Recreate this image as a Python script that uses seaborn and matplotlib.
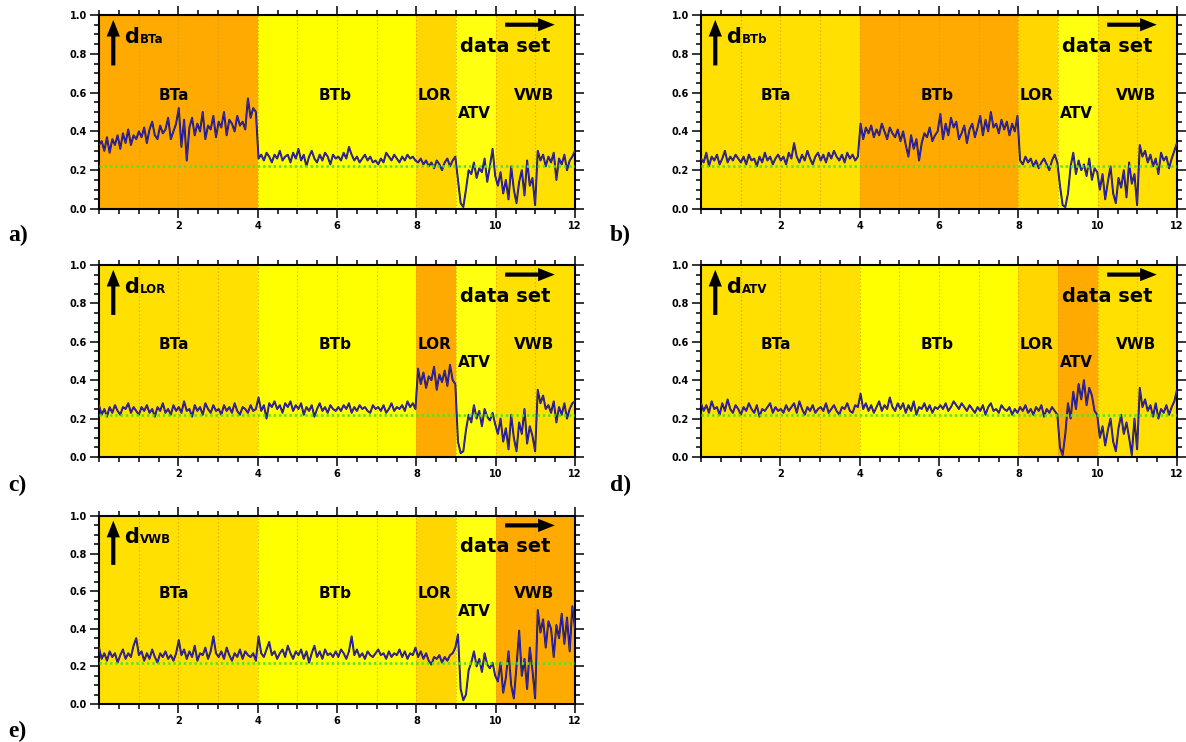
import numpy as np
import pandas as pd
import matplotlib
matplotlib.use("Agg")
import matplotlib.pyplot as plt
import seaborn as sns
from matplotlib.ticker import MultipleLocator, FixedLocator, FormatStrFormatter

sns.set_theme(style="ticks")
plt.rcParams['font.family'] = ['DejaVu Sans']
plt.rcParams['text.color'] = 'black'
plt.rcParams['xtick.color'] = 'black'
plt.rcParams['ytick.color'] = 'black'
plt.rcParams['axes.labelcolor'] = 'black'

# ---------------- data ----------------
segments = ['BTa', 'BTb', 'LOR', 'ATV', 'VWB']
seg_bounds = [0, 4, 8, 9, 10, 12]
panel_letters = ['a)', 'b)', 'c)', 'd)', 'e)']
panel_targets = ['BTa', 'BTb', 'LOR', 'ATV', 'VWB']
x_ticks = [2, 4, 6, 8, 10, 12]
y_ticks = [0.0, 0.2, 0.4, 0.6, 0.8, 1.0]
threshold = 0.22

# values in hundredths, 15 samples per data set unit
d_BTa = [33,35,30,37,29,36,33,38,31,39,34,41,33,38,36,
         40,37,42,34,41,45,38,36,43,39,41,47,36,40,44,
         52,32,46,25,42,47,38,44,40,50,36,43,41,48,37,
         45,42,50,38,46,44,40,48,43,45,41,57,47,52,50,
         26,28,25,29,27,24,28,26,30,25,27,28,24,29,26,
         31,25,28,22,27,30,26,24,28,25,29,27,23,28,26,
         27,25,29,26,32,28,25,27,24,26,28,25,27,24,25,
         23,26,24,29,27,25,28,26,24,27,25,28,26,27,25,
         24,26,23,25,22,24,21,25,23,20,24,26,22,25,27,
         15,3,1,10,20,18,24,16,21,19,26,14,22,31,17,
         12,19,8,15,5,22,10,3,14,20,7,25,12,16,2,
         30,25,28,22,27,24,29,15,26,23,28,20,25,27,30]
d_BTb = [26,24,29,22,27,25,28,23,26,30,24,27,25,28,26,
         24,27,23,28,25,26,22,27,24,29,25,27,23,26,28,
         25,27,23,29,26,34,27,24,28,25,30,26,23,27,29,
         25,28,24,29,26,30,27,25,28,24,29,26,28,25,27,
         44,36,42,39,43,37,41,38,44,40,36,42,39,37,41,
         35,40,33,27,38,31,36,25,34,39,37,42,35,38,40,
         49,36,44,38,47,42,45,36,39,43,34,41,44,37,42,
         48,38,46,40,50,42,44,39,46,41,45,38,44,40,48,
         25,23,27,24,26,22,25,21,24,26,23,20,25,28,24,
         12,2,1,8,22,29,18,25,20,23,17,26,15,21,19,
         10,18,5,14,22,8,3,16,11,20,6,24,13,18,2,
         33,27,30,24,28,22,26,18,29,25,27,21,26,30,34]
d_LOR = [27,22,25,21,26,23,27,24,22,26,25,28,23,26,24,
         22,26,24,27,23,25,21,26,24,28,23,25,22,27,24,
         26,23,29,24,25,21,27,24,26,22,28,25,23,27,24,
         25,22,27,24,26,23,28,24,22,26,25,23,27,24,25,
         31,24,27,20,28,26,29,25,27,23,28,26,29,24,27,
         25,28,22,26,24,27,21,25,28,24,26,23,27,25,24,
         26,24,27,25,28,23,26,24,27,25,26,24,23,27,25,
         26,24,27,23,25,28,24,26,25,27,24,29,26,28,25,
         46,38,44,36,42,40,47,35,43,39,45,37,48,40,38,
         8,2,3,14,22,18,27,20,24,16,25,21,19,23,17,
         12,20,8,15,4,22,10,3,18,12,25,7,16,11,3,
         35,28,32,25,27,23,29,18,26,22,28,20,25,28,29]
d_ATV = [28,24,27,23,29,25,26,22,28,24,30,25,23,27,25,
         22,26,24,28,25,23,27,21,25,24,26,28,23,26,24,
         25,23,27,24,26,28,23,29,25,22,26,24,27,23,25,
         26,24,28,23,25,27,24,22,26,25,28,24,23,27,26,
         33,25,28,24,27,23,26,29,24,27,25,31,26,24,28,
         25,28,23,27,24,29,22,26,25,28,24,27,23,26,25,
         27,25,28,24,26,29,27,25,28,26,24,27,25,23,26,
         24,27,22,26,28,24,25,23,27,25,24,26,22,25,23,
         26,24,27,23,25,22,26,24,27,21,25,23,26,24,22,
         5,1,12,28,20,34,25,38,30,40,27,36,32,24,22,
         10,16,6,14,20,8,3,15,22,12,18,10,1,20,4,
         36,26,30,24,27,21,28,20,25,23,27,22,26,29,35]
d_VWB = [30,24,27,23,28,25,27,22,26,29,24,27,25,31,35,
         26,28,23,27,24,29,25,22,27,25,28,24,26,23,27,
         34,26,29,24,28,25,31,23,27,26,30,24,28,36,27,
         25,28,24,30,26,23,27,25,29,24,28,26,25,27,23,
         36,27,25,29,33,26,28,24,27,29,25,31,27,24,28,
         26,29,24,28,22,27,31,25,28,24,29,26,27,25,28,
         25,29,27,24,28,36,26,29,25,27,24,28,26,25,27,
         29,26,27,24,28,25,27,26,29,25,28,24,27,26,30,
         25,28,24,27,23,21,25,24,26,22,25,23,26,27,30,
         37,8,2,5,18,22,28,20,24,17,27,21,19,22,15,
         12,22,6,14,28,10,3,20,39,15,24,8,30,18,3,
         50,38,45,30,44,40,25,42,35,48,32,46,28,52,40]

series = {'BTa': d_BTa, 'BTb': d_BTb, 'LOR': d_LOR, 'ATV': d_ATV, 'VWB': d_VWB}

# ---------------- style ----------------
base_colors = {'BTa': '#FFE000', 'BTb': '#FFFF00', 'LOR': '#FFD600',
               'ATV': '#FFFF10', 'VWB': '#FFE000'}
highlight = '#FFAA00'
label_pos = {'BTa': (1.9, 0.586), 'BTb': (5.95, 0.586), 'LOR': (8.47, 0.586),
             'ATV': (9.47, 0.49), 'VWB': (10.96, 0.586)}

W, H = 1186, 742
fig = plt.figure(figsize=(W / 100, H / 100), dpi=100)
fig.patch.set_facecolor('white')

rows = [(15, 209), (265, 457), (516, 704)]
cols = [(99, 575), (701, 1177)]
label_base = [241, 491, 737]
label_x = [8, 610]

for i, target in enumerate(panel_targets):
    r, c = divmod(i, 2)
    (top, bot), (lft, rgt) = rows[r], cols[c]
    ax = fig.add_axes([lft / W, 1 - bot / H, (rgt - lft) / W, (bot - top) / H])

    # background segments
    for k, seg in enumerate(segments):
        col = highlight if seg == target else base_colors[seg]
        ax.axvspan(seg_bounds[k], seg_bounds[k + 1], color=col, lw=0, zorder=0)
    for k in range(1, 12):
        ax.axvline(k, color='#d99a20', lw=0.8, ls=(0, (1, 2.2)), zorder=1, alpha=0.9)

    vals = np.array(series[target]) / 100.0
    df = pd.DataFrame({'x': np.linspace(0, 12, len(vals)), 'd': vals})
    sns.lineplot(data=df, x='x', y='d', ax=ax, color='#1c1058', lw=1.4,
                 estimator=None, sort=False, zorder=3)
    sns.lineplot(data=df, x='x', y='d', ax=ax, color='#3a30e0', lw=0.5,
                 estimator=None, sort=False, zorder=4)
    ax.axhline(threshold, color='#4fe62a', lw=1.9, ls=(0, (0.9, 1.1)), zorder=5)

    ax.set_xlim(0, 12)
    ax.set_ylim(0, 1)
    ax.set_xlabel('')
    ax.set_ylabel('')
    ax.xaxis.set_major_locator(FixedLocator(x_ticks))
    ax.xaxis.set_minor_locator(MultipleLocator(0.5))
    ax.yaxis.set_major_locator(FixedLocator(y_ticks))
    ax.yaxis.set_minor_locator(MultipleLocator(0.05))
    ax.yaxis.set_major_formatter(FormatStrFormatter('%.1f'))
    ax.tick_params(which='both', direction='out', top=True, right=True,
                   labeltop=False, labelright=False, color='black', width=1.1,
                   labelcolor='black')
    ax.tick_params(which='major', length=6.5, pad=2, labelsize=7)
    ax.tick_params(which='minor', length=3.5)
    for lab in ax.get_xticklabels() + ax.get_yticklabels():
        lab.set_fontweight('bold')
    for sp in ax.spines.values():
        sp.set_visible(True)
        sp.set_linewidth(1.5)
        sp.set_color('black')

    # segment labels
    for seg in segments:
        x, y = label_pos[seg]
        ax.text(x, y, seg, ha='center', va='center', fontsize=11,
                fontweight='bold', color='black', zorder=6)
    ax.text(10.25, 0.836, 'data set', ha='center', va='center', fontsize=14,
            fontweight='bold', color='black', zorder=6)
    ax.text(0.63, 0.856, 'd', ha='left', va='baseline', fontsize=15,
            fontweight='bold', color='black', zorder=6)
    ax.text(1.02, 0.856, target, ha='left', va='baseline', fontsize=8.5,
            fontweight='bold', color='black', zorder=6)
    ax.annotate('', xy=(0.36, 0.975), xytext=(0.36, 0.74),
                arrowprops=dict(arrowstyle='simple,head_length=1.2,head_width=0.95,tail_width=0.3',
                                mutation_scale=10, color='black', lw=0,
                                shrinkA=0, shrinkB=0), zorder=6)
    ax.annotate('', xy=(11.49, 0.95), xytext=(10.24, 0.95),
                arrowprops=dict(arrowstyle='simple,head_length=1.2,head_width=0.95,tail_width=0.3',
                                mutation_scale=10, color='black', lw=0,
                                shrinkA=0, shrinkB=0), zorder=6)

    fig.text(label_x[c] / W, 1 - label_base[r] / H, panel_letters[i],
             ha='left', va='baseline', fontsize=17, fontweight='bold',
             color='black', family=['Liberation Serif', 'DejaVu Serif'])

fig.savefig('out.png', dpi=100)
